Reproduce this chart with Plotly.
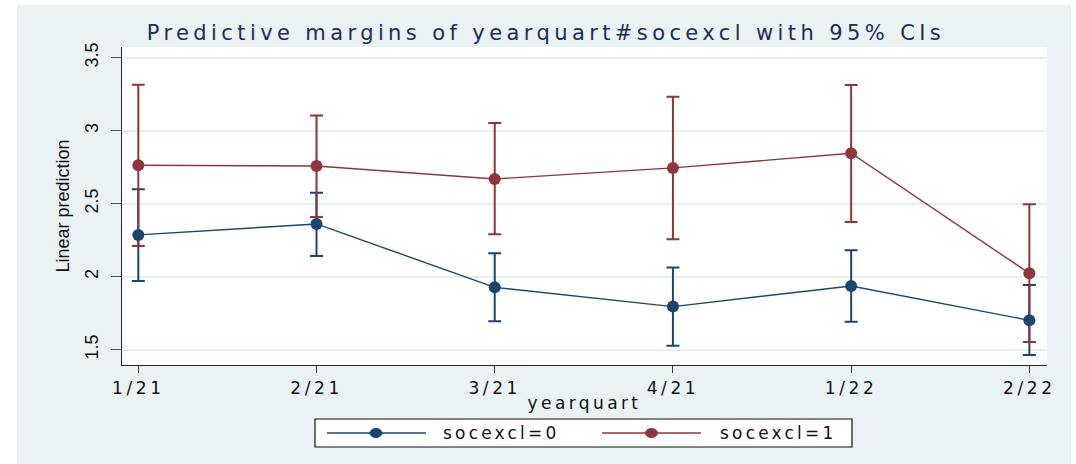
import plotly.graph_objects as go

# Quarters on the x axis
quarters = ["1/21", "2/21", "3/21", "4/21", "1/22", "2/22"]

# socexcl=0 : margin and 95% CI
m0 = [2.286, 2.361, 1.927, 1.795, 1.936, 1.701]
lo0 = [1.970, 2.142, 1.695, 1.527, 1.692, 1.464]
hi0 = [2.599, 2.575, 2.160, 2.062, 2.181, 1.943]

# socexcl=1 : margin and 95% CI
m1 = [2.763, 2.758, 2.669, 2.745, 2.845, 2.023]
lo1 = [2.210, 2.409, 2.290, 2.256, 2.375, 1.553]
hi1 = [3.315, 3.103, 3.053, 3.233, 3.313, 2.496]

ytick_vals = [1.5, 2, 2.5, 3, 3.5]
ytick_text = ["1.5", "2", "2.5", "3", "3.5"]

NAVY = "#1A476F"
MAROON = "#90353B"
PANEL = "#EAF2F3"
TITLE_C = "#1C2D5A"

W, H = 1076, 464
ML, MR, MT, MB = 122, 29, 47, 99
PW, PH = W - ML - MR, H - MT - MB

WIDE = "DejaVu Sans"
NARROW = "Liberation Sans Narrow, Liberation Sans, Arial"


def px(x):
    return (x - ML) / PW


def py(y):
    return (H - MB - y) / PH


def spaced(s, sp):
    return f'<span style="letter-spacing:{sp}px">{s}</span>'


xs = list(range(len(quarters)))

fig = go.Figure()

# confidence-interval caps (blue first, maroon over it)
for m, lo, hi, col in [(m0, lo0, hi0, NAVY), (m1, lo1, hi1, MAROON)]:
    fig.add_trace(go.Scatter(
        x=xs, y=m, mode="markers",
        marker=dict(size=1, color="rgba(0,0,0,0)"),
        error_y=dict(type="data", symmetric=False,
                     array=[h - v for h, v in zip(hi, m)],
                     arrayminus=[v - l for v, l in zip(m, lo)],
                     color=col, thickness=2, width=6.5),
        showlegend=False, hoverinfo="skip"))

# connected margins
for m, col, name in [(m0, NAVY, "socexcl=0"), (m1, MAROON, "socexcl=1")]:
    fig.add_trace(go.Scatter(
        x=xs, y=m, mode="lines+markers", name=name,
        line=dict(color=col, width=1.4),
        marker=dict(color=col, size=12),
        showlegend=False))

shapes = []
# white outer margins around the shaded panel
for x0, x1, y0, y1 in [(0, 17, 0, H), (1071, W, 0, H), (0, W, 0, 5)]:
    shapes.append(dict(type="rect", xref="paper", yref="paper",
                       x0=px(x0), x1=px(x1), y0=py(y1), y1=py(y0),
                       fillcolor="white", line=dict(width=0), layer="below"))

# legend box
shapes.append(dict(type="rect", xref="paper", yref="paper",
                   x0=px(315), x1=px(852), y0=py(447), y1=py(419),
                   fillcolor="white", line=dict(color="#111111", width=1.2)))
annotations = []
ly = 433
for (l0, l1, mx, tx), col, name in [((327, 426, 376, 441), NAVY, "socexcl=0"),
                                    ((602, 701, 651.5, 718), MAROON, "socexcl=1")]:
    shapes.append(dict(type="line", xref="paper", yref="paper",
                       x0=px(l0), x1=px(l1), y0=py(ly), y1=py(ly),
                       line=dict(color=col, width=1.4)))
    shapes.append(dict(type="circle", xref="paper", yref="paper",
                       xsizemode="pixel", ysizemode="pixel",
                       xanchor=px(mx), yanchor=py(ly),
                       x0=-6, x1=6, y0=-4.5, y1=4.5,
                       fillcolor=col, line=dict(color=col, width=1)))
    annotations.append(dict(xref="paper", yref="paper", x=px(tx), y=py(ly),
                            xanchor="left", yanchor="middle", showarrow=False,
                            text=spaced(name, 3.2),
                            font=dict(family=WIDE, size=17, color="#111111")))

fig.update_layout(
    width=W, height=H,
    margin=dict(l=ML, r=MR, t=MT, b=MB, pad=0),
    paper_bgcolor=PANEL, plot_bgcolor="white",
    title=dict(text=spaced("Predictive margins of yearquart#socexcl with 95% CIs", 4.4),
               x=px(546), xref="paper", xanchor="center",
               y=1 - 33 / H, yref="container", yanchor="middle",
               font=dict(family=WIDE, size=21, color=TITLE_C)),
    xaxis=dict(range=[-0.0915, 5.099], tickmode="array", tickvals=xs,
               ticktext=[spaced(q, 3.6) for q in quarters],
               ticks="outside", ticklen=7, tickwidth=1.2, tickcolor="#333333",
               showgrid=False, zeroline=False,
               showline=True, linecolor="#222222", linewidth=1.2,
               tickfont=dict(family=WIDE, size=17, color="#111111"),
               title=dict(text=spaced("yearquart", 3.4), standoff=0,
                          font=dict(family=WIDE, size=17, color="#111111"))),
    yaxis=dict(range=[1.395, 3.573], tickmode="array", tickvals=ytick_vals,
               ticktext=ytick_text, tickangle=-90,
               ticks="outside", ticklen=10, tickwidth=1.2, tickcolor="#555555",
               ticklabelstandoff=6,
               showgrid=True, gridcolor="#E6EFF0", gridwidth=2,
               zeroline=False,
               showline=True, linecolor="#222222", linewidth=1.2,
               tickfont=dict(family=NARROW, size=18, color="#111111"),
               title=dict(text="Linear prediction", standoff=7,
                          font=dict(family=NARROW, size=18, color="#111111"))),
    shapes=shapes,
    annotations=annotations,
    showlegend=False,
)

fig.write_html("out.html")
